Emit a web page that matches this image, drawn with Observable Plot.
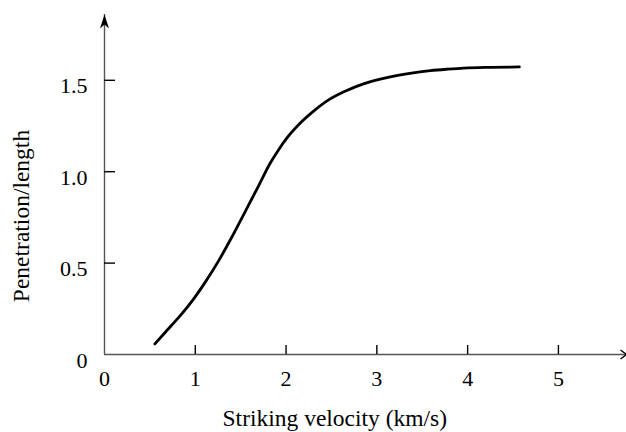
<!DOCTYPE html>
<html>
<head>
<meta charset="utf-8">
<script src="https://cdn.jsdelivr.net/npm/d3@7"></script>
<script src="https://cdn.jsdelivr.net/npm/@observablehq/plot@0.6"></script>
<style>
  html, body { margin: 0; padding: 0; background: #fff; }
  #chart svg { display: block; overflow: visible; }
</style>
</head>
<body>
<div id="chart"></div>
<script>
// Data
const velocity    = [0.555, 0.67, 0.82, 0.97, 1.11, 1.26, 1.40, 1.55, 1.70, 1.82, 1.92, 2.01, 2.16, 2.30, 2.46, 2.65, 2.86, 3.05, 3.23, 3.40, 3.59, 3.78, 3.96, 4.25, 4.57];
const penetration = [0.058, 0.122, 0.204, 0.296, 0.396, 0.515, 0.640, 0.782, 0.925, 1.042, 1.122, 1.185, 1.268, 1.330, 1.390, 1.440, 1.482, 1.508, 1.527, 1.541, 1.553, 1.561, 1.567, 1.571, 1.573];

const xTickValues  = [1, 2, 3, 4, 5];
const xLabelValues = [0, 1, 2, 3, 4, 5];
const xTickLabels  = ["0", "1", "2", "3", "4", "5"];
const yTickValues  = [0.5, 1.0, 1.5];
const yLabelValues = [0, 0.5, 1.0, 1.5];
const yTickLabels  = ["0", "0.5", "1.0", "1.5"];

const xTitle = "Striking velocity (km/s)";
const yTitle = "Penetration/length";

const xMax = 5.75, yMax = 1.86;

const curve = velocity.map((v, i) => ({v, p: penetration[i]}));

const font = "'Liberation Serif', 'Times New Roman', serif";

// arrow head symbols (tip at the origin)
const upArrow = {
  draw(ctx) {
    ctx.moveTo(0, 0);
    ctx.lineTo(-4.5, 14);
    ctx.lineTo(0, 10);
    ctx.lineTo(4.5, 14);
    ctx.closePath();
  }
};
const rightChevron = {
  draw(ctx) {
    ctx.moveTo(-6, -4.5);
    ctx.lineTo(0, 0);
    ctx.lineTo(-6, 4.5);
  }
};

const chart = Plot.plot({
  width: 626,
  height: 432,
  marginLeft: 104,
  marginRight: 0,
  marginTop: 14,
  marginBottom: 78,
  style: {fontFamily: font, background: "#fff", color: "#000"},
  x: {domain: [0, xMax], axis: null},
  y: {domain: [0, yMax], axis: null},
  marks: [
    // axis lines
    Plot.ruleY([0], {stroke: "#555", strokeWidth: 1.4}),
    Plot.ruleX([0], {stroke: "#555", strokeWidth: 1.4, y1: 0, y2: yMax}),
    // arrow heads
    Plot.dot([{x: 0, y: yMax}], {x: "x", y: "y", symbol: upArrow, fill: "#000", stroke: "none"}),
    Plot.dot([{x: xMax, y: 0}], {x: "x", y: "y", symbol: rightChevron, fill: "none", stroke: "#000", strokeWidth: 1.4}),
    // ticks (drawn inward)
    Plot.axisX(xTickValues, {tickSize: -9, fill: "none", stroke: "#000", strokeWidth: 1.4}),
    Plot.axisY(yTickValues, {tickSize: -11, fill: "none", stroke: "#000", strokeWidth: 1.4}),
    // tick labels
    Plot.axisX(xLabelValues, {tickSize: 0, tickPadding: 16, fontSize: 22, fill: "#000",
      fontFamily: font, tickFormat: (d, i) => xTickLabels[i], label: null}),
    Plot.axisY(yLabelValues, {tickSize: 0, tickPadding: 17, fontSize: 22, fill: "#000", dy: 6,
      fontFamily: font, tickFormat: (d, i) => yTickLabels[i], label: null}),
    // axis titles
    Plot.text([xTitle], {frameAnchor: "bottom", text: d => d, fontSize: 23.5, fill: "#000",
      fontFamily: font, textAnchor: "middle", lineAnchor: "middle", dx: -30.7, dy: 64}),
    Plot.text([yTitle], {frameAnchor: "left", text: d => d, fontSize: 23.5, fill: "#000",
      fontFamily: font, rotate: -90, textAnchor: "middle", lineAnchor: "middle", dx: -83.5, dy: 31.5}),
    // the curve
    Plot.line(curve, {x: "v", y: "p", curve: "monotone-x", stroke: "#000", strokeWidth: 2.8})
  ]
});

document.getElementById("chart").appendChild(chart);
</script>
</body>
</html>
